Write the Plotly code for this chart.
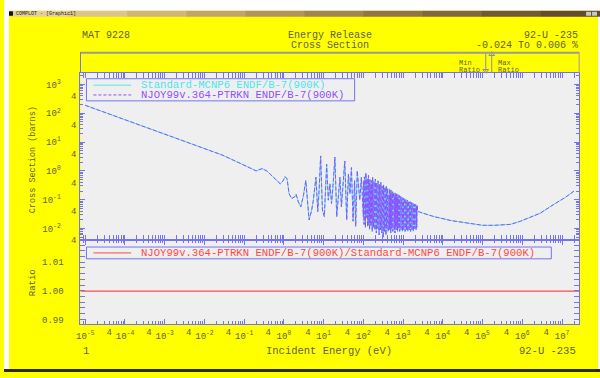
import plotly.graph_objects as go

W, H = 600, 378

# ---------------- data ----------------
# thermal + low resolved-resonance part
low_energy_eV = [
    1e-5, 3e-5, 1e-4, 3e-4, 1e-3, 3e-3, 0.0089, 0.028, 0.089, 0.158, 0.2, 0.28, 0.37,
    0.6, 0.81, 0.95, 1.07, 1.2, 1.35, 1.58, 1.9, 2.03, 2.3, 2.66, 3.1, 3.55, 3.9, 4.3,
    5.0, 5.5, 6.4, 7.1, 7.6, 8.4, 9.3, 10.4, 11.9, 13.1, 14.4, 15.8, 17.0, 19.2, 21.3,
    23.4, 25.7, 28.0, 31.0, 34.0, 38.0, 42.0, 46.0, 50.0, 55.0, 60.0, 64.0, 70.0, 81.0,
    89.0, 100.0,
]
low_xs_barns = [
    188, 108, 59, 34, 18.8, 10.8, 6.3, 3.55, 1.7, 1.15, 1.0, 1.2, 1.0,
    0.53, 0.355, 0.45, 0.63, 0.53, 0.16, 0.11, 0.13, 0.155, 0.085, 0.057, 0.14, 0.46, 0.074, 0.02,
    0.044, 0.097, 0.6, 0.039, 0.16, 3.3, 0.044, 0.026, 1.7, 0.097, 0.355, 0.074, 0.24, 3.0, 0.026,
    0.125, 0.6, 0.057, 0.355, 2.2, 0.02, 0.78, 0.16, 1.3, 0.018, 0.46, 0.012, 1.0, 0.097,
    0.6, 0.026,
]
# dense resonance forest, 100 eV - 2.25 keV
forest_energy_eV = [
    102, 104, 106, 108, 110, 112.5, 115, 117, 119.5, 122,
    124.5, 127, 129.5, 132, 134.5, 137, 140, 143, 146, 149,
    152, 155, 158, 161, 164, 167, 171, 174, 178, 181,
    185, 189, 192, 196, 200, 204, 208, 212, 216, 221,
    225, 230, 234, 239, 244, 249, 254, 259, 264, 269,
    275, 280, 286, 292, 297, 303, 310, 316, 322, 329,
    335, 342, 349, 356, 363, 370, 377, 385, 393, 400,
    408, 417, 425, 434, 442, 451, 460, 469, 479, 488,
    498, 508, 518, 529, 539, 550, 561, 572, 584, 596,
    608, 620, 632, 645, 658, 671, 684, 698, 712, 726,
    741, 756, 771, 786, 802, 818, 834, 851, 868, 885,
    903, 921, 940, 958, 978, 997, 1017, 1037, 1058, 1079,
    1101, 1123, 1146, 1168, 1192, 1216, 1240, 1265, 1290, 1316,
    1342, 1369, 1396, 1424, 1453, 1482, 1511, 1542, 1572, 1604,
    1636, 1669, 1702, 1736, 1771, 1806, 1842, 1879, 1917, 1955,
    1994, 2034, 2075, 2116, 2159, 2202, 2250,
]
forest_xs_barns = [
    0.45, 0.014, 0.62, 0.02, 0.32, 0.011, 0.85, 0.017, 0.4, 0.024,
    0.55, 0.012, 0.3, 0.019, 0.7, 0.013, 0.42, 0.009, 0.5, 0.016,
    0.27, 0.012, 0.46, 0.021, 0.35, 0.008, 0.6, 0.015, 0.24, 0.011,
    0.44, 0.018, 0.3, 0.009, 0.52, 0.013, 0.22, 0.007, 0.38, 0.014,
    0.28, 0.01, 0.45, 0.016, 0.2, 0.006, 0.34, 0.012, 0.26, 0.009,
    0.4, 0.013, 0.19, 0.007, 0.3, 0.011, 0.23, 0.005, 0.33, 0.012,
    0.18, 0.008, 0.27, 0.013, 0.21, 0.006, 0.3, 0.01, 0.17, 0.012,
    0.25, 0.008, 0.2, 0.011, 0.15, 0.009, 0.24, 0.012, 0.16, 0.007,
    0.21, 0.01, 0.14, 0.012, 0.19, 0.008, 0.13, 0.011, 0.18, 0.009,
    0.12, 0.007, 0.17, 0.011, 0.13, 0.009, 0.16, 0.012, 0.11, 0.008,
    0.15, 0.01, 0.1, 0.012, 0.14, 0.008, 0.11, 0.011, 0.13, 0.009,
    0.095, 0.012, 0.12, 0.008, 0.09, 0.011, 0.115, 0.009, 0.085, 0.012,
    0.11, 0.008, 0.08, 0.011, 0.1, 0.009, 0.075, 0.012, 0.095, 0.008,
    0.07, 0.011, 0.09, 0.009, 0.068, 0.012, 0.085, 0.008, 0.065, 0.011,
    0.08, 0.009, 0.062, 0.012, 0.075, 0.008, 0.06, 0.011, 0.07, 0.01,
    0.058, 0.012, 0.068, 0.009, 0.06, 0.011, 0.065,
]
# smooth part above the resolved range
high_energy_eV = [2300, 2800, 6000, 1.6e4, 5e4, 1e5, 2e5, 5e5, 9e5, 2.8e6, 6.3e6, 1.2e7, 2e7]
high_xs_barns = [0.04, 0.036, 0.026, 0.019, 0.015, 0.013, 0.013, 0.014, 0.018, 0.034, 0.07,
                 0.12, 0.2]

energy_eV = low_energy_eV + forest_energy_eV + high_energy_eV
xs_barns = low_xs_barns + forest_xs_barns + high_xs_barns

ratio_energy_eV = [7.6e-6, 2.7e7]
ratio_values = [0.9999, 0.9999]
min_ratio_energy_eV = 1.2e5
max_ratio_energy_eV = 1.7e5

x_major_vals = [10.0 ** k for k in range(-5, 8)]
x_major_text = ["10<sup>%d</sup>" % k for k in range(-5, 8)]
x_four_vals = [4 * 10.0 ** k for k in range(-5, 7)]
y_major_vals = [10.0 ** k for k in range(-2, 4)]
y_major_text = ["10<sup>%d</sup>" % k for k in range(-2, 4)]
y_four_vals = [4 * 10.0 ** k for k in range(-3, 3)]
ratio_tick_vals = [0.99, 1.00, 1.01]
ratio_tick_text = ["0.99", "1.00", "1.01"]

name_std = "Standard-MCNP6 ENDF/B-7(900K)"
name_njoy = "NJOY99v.364-PTRKN ENDF/B-7(900K)"
name_ratio = "NJOY99v.364-PTRKN ENDF/B-7(900K)/Standard-MCNP6 ENDF/B-7(900K)"

# ---------------- style ----------------
FONT = "Liberation Mono, Courier New, monospace"
TXT = "#62623c"
AXC = "#7474f0"
BG = "#efefef"
YEL = "#ffff00"
CYAN = "#50e4ee"
PURP = "#9050ff"
RED = "#ff4848"


def px(x):
    return x / W


def py(y):
    return 1 - y / H


X_DOM = [px(77), px(579)]
Y_TOP = [py(244), py(74)]
Y_RAT = [py(329), py(244)]
Y_HDR = [py(74), py(53)]
X_RANGE = [-5.12, 7.43]

minor_x = [m * 10.0 ** k for k in range(-6, 8) for m in (2, 3, 4, 5, 6, 7, 8, 9)]
minor_y = [m * 10.0 ** k for k in range(-3, 4) for m in (2, 3, 4, 5, 6, 7, 8, 9)]

fig = go.Figure()

fig.add_trace(go.Scatter(x=energy_eV, y=xs_barns, xaxis="x2", yaxis="y2", mode="lines",
                         line=dict(color=CYAN, width=1), name=name_std, showlegend=False))
fig.add_trace(go.Scatter(x=energy_eV, y=xs_barns, xaxis="x2", yaxis="y2", mode="lines",
                         line=dict(color=PURP, width=1, dash="4px,2px"), name=name_njoy,
                         showlegend=False))
fig.add_trace(go.Scatter(x=ratio_energy_eV, y=ratio_values, xaxis="x", yaxis="y", mode="lines",
                         line=dict(color=RED, width=1.2), name=name_ratio, showlegend=False))
# min / max ratio markers in header band
MK = "#8c8ca0"
fig.add_trace(go.Scatter(x=[min_ratio_energy_eV, min_ratio_energy_eV], y=[1, 0.06], xaxis="x4",
                         yaxis="y4", mode="lines", cliponaxis=False,
                         line=dict(color=MK, width=1), showlegend=False, hoverinfo="skip"))
fig.add_trace(go.Scatter(x=[min_ratio_energy_eV], y=[0.1], xaxis="x4", yaxis="y4",
                         mode="markers", cliponaxis=False,
                         marker=dict(symbol="triangle-down-open", size=5, color=MK,
                                     line=dict(width=1, color=MK)),
                         showlegend=False, hoverinfo="skip"))
fig.add_trace(go.Scatter(x=[max_ratio_energy_eV, max_ratio_energy_eV], y=[0, 0.94], xaxis="x4",
                         yaxis="y4", mode="lines", cliponaxis=False,
                         line=dict(color=MK, width=1), showlegend=False, hoverinfo="skip"))
fig.add_trace(go.Scatter(x=[max_ratio_energy_eV], y=[0.9], xaxis="x4", yaxis="y4",
                         mode="markers", cliponaxis=False,
                         marker=dict(symbol="triangle-up-open", size=5, color=MK,
                                     line=dict(width=1, color=MK)),
                         showlegend=False, hoverinfo="skip"))
# dummy traces for the overlay label axes
fig.add_trace(go.Scatter(x=[1], y=[1], xaxis="x2", yaxis="y3", mode="markers",
                         marker=dict(opacity=0), showlegend=False, hoverinfo="skip"))
fig.add_trace(go.Scatter(x=[1], y=[1], xaxis="x3", yaxis="y", mode="markers",
                         marker=dict(opacity=0), showlegend=False, hoverinfo="skip"))

tickfont = dict(family=FONT, size=9, color=TXT)
common_x = dict(type="log", range=X_RANGE, domain=X_DOM, showgrid=False, zeroline=False,
                showline=True, linecolor=AXC, linewidth=1, ticks="inside", ticklen=5,
                tickcolor=AXC, mirror="allticks",
                minor=dict(tickvals=minor_x, ticks="inside", ticklen=3, tickcolor=AXC))

fig.update_layout(
    width=W, height=H, margin=dict(l=0, r=0, t=0, b=0),
    paper_bgcolor=YEL, plot_bgcolor="rgba(0,0,0,0)", showlegend=False,
    xaxis=dict(**common_x, anchor="y", tickvals=x_major_vals, ticktext=x_major_text,
               tickfont=tickfont, ticklabelstandoff=3),
    xaxis2=dict(**common_x, anchor="y2", showticklabels=False, tickvals=x_major_vals),
    xaxis3=dict(type="log", range=X_RANGE, domain=X_DOM, overlaying="x", anchor="y",
                side="bottom", showgrid=False, zeroline=False, showline=False, ticks="",
                tickvals=x_four_vals, ticktext=["4"] * len(x_four_vals), tickfont=tickfont,
                ticklabelstandoff=1),
    xaxis4=dict(type="log", range=X_RANGE, domain=X_DOM, anchor="y4", visible=False),
    yaxis=dict(domain=Y_RAT, anchor="x", range=[0.98845, 1.01776], showgrid=False,
               zeroline=False, showline=True, linecolor=AXC, ticks="inside", ticklen=5,
               tickcolor=AXC, mirror="allticks", tickvals=ratio_tick_vals,
               ticktext=ratio_tick_text, tickfont=tickfont, ticklabelstandoff=14,
               minor=dict(dtick=0.002, ticks="inside", ticklen=3, tickcolor=AXC)),
    yaxis2=dict(type="log", domain=Y_TOP, anchor="x2", range=[-2.4, 3.4], showgrid=False,
                zeroline=False, showline=True, linecolor=AXC, ticks="inside", ticklen=5,
                tickcolor=AXC, mirror="allticks", tickvals=y_major_vals,
                ticktext=y_major_text, tickfont=tickfont, ticklabelstandoff=17,
                minor=dict(tickvals=minor_y, ticks="inside", ticklen=3, tickcolor=AXC)),
    yaxis3=dict(type="log", overlaying="y2", anchor="x2", side="left", range=[-2.4, 3.4],
                showgrid=False, zeroline=False, showline=False, ticks="",
                tickvals=y_four_vals, ticktext=["4"] * len(y_four_vals), tickfont=tickfont,
                ticklabelstandoff=3),
    yaxis4=dict(domain=Y_HDR, anchor="x4", range=[0, 1], visible=False, fixedrange=True),
)

shapes = []


def rect(x0, y0, x1, y1, fill, line_color=None, lw=0, layer="below"):
    shapes.append(dict(type="rect", xref="paper", yref="paper", x0=px(x0), x1=px(x1),
                       y0=py(y0), y1=py(y1), fillcolor=fill, layer=layer,
                       line=dict(color=line_color or fill, width=lw)))


def hline(x0, x1, y, color, lw=1, dash=None, layer="above"):
    ln = dict(color=color, width=lw)
    if dash:
        ln["dash"] = dash
    shapes.append(dict(type="line", xref="paper", yref="paper", x0=px(x0), x1=px(x1),
                       y0=py(y), y1=py(y), line=ln, layer=layer))


def vline(x, y0, y1, color, lw=1, layer="above"):
    shapes.append(dict(type="line", xref="paper", yref="paper", x0=px(x), x1=px(x),
                       y0=py(y0), y1=py(y1), line=dict(color=color, width=lw), layer=layer))


# window chrome
rect(0, 0, 600, 11, "#ffffff")
rect(0, 0, 5, 378, "#ffffff")
rect(598, 0, 600, 378, "#ffffff")
rect(0, 375, 600, 378, "#2a2a2a")
grad = [(228, 208, 156), (220, 196, 138), (208, 180, 120), (194, 164, 104), (178, 148, 92),
        (162, 132, 80), (146, 116, 70), (130, 102, 62), (114, 88, 52), (100, 76, 44)]
seg = (600 - 5) / len(grad)
for i, c in enumerate(grad):
    rect(5 + i * seg, 11, 5 + (i + 1) * seg + 0.5, 17, "rgb(%d,%d,%d)" % c)
rect(5, 11.5, 9, 16, "#111111")
rect(586, 12, 591, 16, "#c8c8c8")
rect(592, 12, 597, 16, "#c8c8c8")

# plot area background
rect(77, 74, 579, 329, BG)
# header box borders
hline(77, 579, 53.5, "#9a9a9a", lw=2)
vline(77, 53, 74, AXC)
vline(579, 53, 74, "#a0a088")

# legend boxes
rect(83, 80, 353, 102.5, BG, AXC, 1, layer="above")
hline(90, 128, 86.5, CYAN)
hline(90, 128, 96.5, PURP, dash="3px,2px")
rect(83, 251, 551, 263, BG, AXC, 1, layer="above")
hline(90, 128, 257, RED)

fig.update_layout(shapes=shapes)

ann = []


def text(x, y, s, size=10.5, color=TXT, xanchor="left", angle=0):
    ann.append(dict(x=px(x), y=py(y), xref="paper", yref="paper", text=s, showarrow=False,
                    xanchor=xanchor, yanchor="middle", textangle=angle,
                    font=dict(family=FONT, size=size, color=color)))


text(10, 14, "COMPLOT - [Graphic1]", size=5, color="#202020")
text(77, 36.5, "MAT 9228", size=10)
text(328, 36.5, "Energy Release", size=10, xanchor="center")
text(328, 46.5, "Cross Section", size=10, xanchor="center")
text(580, 36.5, "92-U -235", size=10, xanchor="right")
text(580, 46.5, "-0.024 To 0.006 %", size=10, xanchor="right")
text(456, 64, "Min", size=7)
text(456, 71, "Ratio", size=7)
text(495, 64, "Max", size=7)
text(495, 71, "Ratio", size=7)
text(136, 86.5, name_std, size=10.6, color=CYAN)
text(136, 96.5, name_njoy, size=10.6, color=PURP)
text(136, 257, name_ratio, size=10.6, color=RED)
text(30, 162, "Cross Section (barns)", size=8.5, xanchor="center", angle=-90)
text(30, 287, "Ratio", size=9, xanchor="center", angle=-90)
text(78, 357, "1")
text(327, 357, "Incident Energy (eV)", xanchor="center")
text(578, 357, "92-U -235", xanchor="right")

fig.update_layout(annotations=ann)

fig.write_html("out.html", config={"displayModeBar": False, "staticPlot": True},
               post_script="document.body.style.margin='0';document.body.style.padding='0';"
                           "document.documentElement.style.overflow='hidden';")
